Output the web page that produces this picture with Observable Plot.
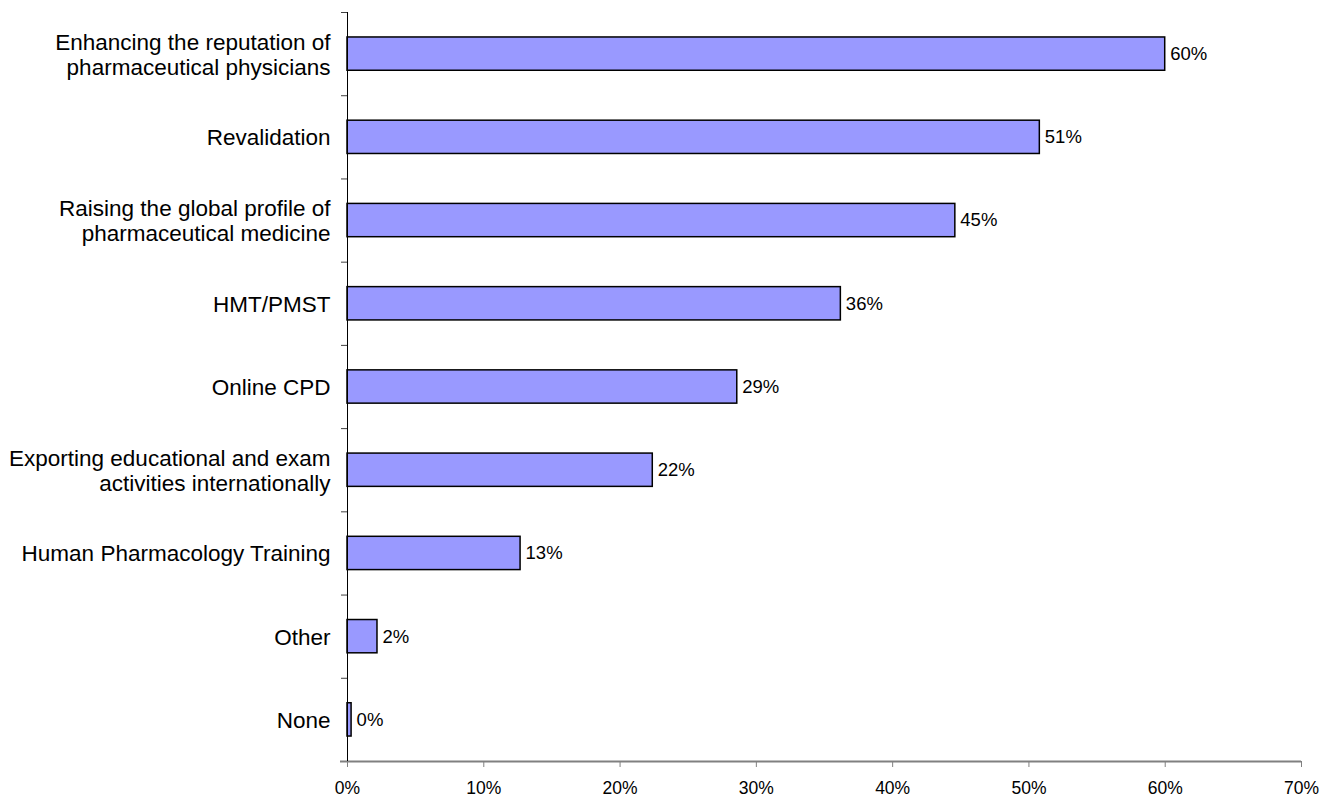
<!DOCTYPE html>
<html>
<head>
<meta charset="utf-8">
<script src="https://cdn.jsdelivr.net/npm/d3@7"></script>
<script src="https://cdn.jsdelivr.net/npm/@observablehq/plot@0.6"></script>
<style>
  html, body { margin: 0; padding: 0; background: #fff; }
  #chart { width: 1321px; height: 799px; }
</style>
</head>
<body>
<div id="chart"></div>
<script>
const categories = [
  "Enhancing the reputation of\npharmaceutical physicians",
  "Revalidation",
  "Raising the global profile of\npharmaceutical medicine",
  "HMT/PMST",
  "Online CPD",
  "Exporting educational and exam\nactivities internationally",
  "Human Pharmacology Training",
  "Other",
  "None"
];
const values = [60.0, 50.8, 44.6, 36.2, 28.6, 22.4, 12.7, 2.2, 0.3];
const valueLabels = ["60%", "51%", "45%", "36%", "29%", "22%", "13%", "2%", "0%"];
const xTicks = [0, 10, 20, 30, 40, 50, 60, 70];

const data = categories.map((c, i) => ({i, category: c, value: values[i], label: valueLabels[i]}));
const boundaries = d3.range(categories.length + 1);

const chart = Plot.plot({
  width: 1321,
  height: 799,
  marginTop: 12,
  marginBottom: 38,
  marginLeft: 347,
  marginRight: 20,
  style: {fontFamily: "'Liberation Sans', Arial, sans-serif", background: "#fff"},
  x: {domain: [0, 70], label: null},
  y: {domain: [0, categories.length], reverse: true, label: null},
  marks: [
    Plot.axisY({ticks: boundaries, tickSize: 6, tickFormat: () => "", stroke: "#404040", label: null}),
    Plot.axisX({ticks: xTicks, tickSize: 6, tickPadding: 14, tickFormat: d => d + "%", fontSize: 17.5, stroke: "#808080", color: "#000", label: null}),
    Plot.rectX(data, {x1: 0, x2: "value", y1: d => d.i + 0.3, y2: d => d.i + 0.7, fill: "#9999ff", stroke: "#000", strokeWidth: 1.5}),
    Plot.ruleY([categories.length], {stroke: "#808080", strokeWidth: 2, insetLeft: -7}),
    Plot.ruleX([0], {y1: 0, y2: categories.length, stroke: "#000", strokeWidth: 1}),
    Plot.text(data, {x: 0, y: d => d.i + 0.5, text: "category", textAnchor: "end", dx: -17, fontSize: 22.5, lineHeight: 1.11, fill: "#000"}),
    Plot.text(data, {x: "value", y: d => d.i + 0.5, text: "label", textAnchor: "start", dx: 5, fontSize: 18.5, fill: "#000"})
  ]
});
document.getElementById("chart").appendChild(chart);
</script>
</body>
</html>
